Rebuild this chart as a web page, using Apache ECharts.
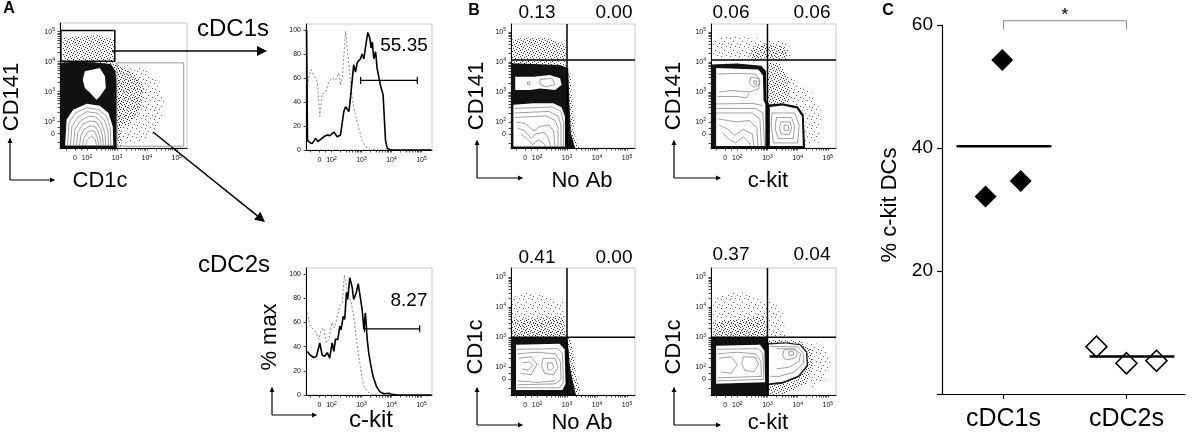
<!DOCTYPE html>
<html>
<head>
<meta charset="utf-8">
<script src="https://cdn.jsdelivr.net/npm/echarts@6/dist/echarts.min.js"></script>
<style>
html, body { margin: 0; padding: 0; background: #fff; }
#main { width: 1192px; height: 435px; }
</style>
</head>
<body>
<div id="main"></div>
<script>
// ---- axis ticks (biexponential channel units: 0 -> 1.6, 10^k -> k)
var tickVals = [1.6, 2, 3, 4, 5];
var tickText = ['0', '10{s|2}', '10{s|3}', '10{s|4}', '10{s|5}'];
var logSteps = [0.301, 0.477, 0.602, 0.699, 0.778, 0.845, 0.903, 0.954];
var histTicks = [0, 20, 40, 60, 80, 100];

// ---- panel A histograms (% max vs c-kit channel)
var cdc1Kit = [[1.17,100],[1.2,8],[1.28,6],[1.36,5.5],[1.47,9.7],[1.55,7],[1.61,5.5],[1.74,11],[1.86,12.5],[1.95,12],[2.08,15],[2.19,11],[2.3,12.5],[2.41,32],[2.47,36],[2.52,37.5],[2.58,32],[2.63,43],[2.74,71],[2.8,65],[2.86,73],[2.92,72],[2.97,76],[3.02,80],[3.08,76],[3.13,85],[3.21,98],[3.28,93],[3.32,85],[3.36,90],[3.41,76],[3.47,82],[3.52,68],[3.58,68],[3.63,54],[3.72,46],[3.8,8],[3.86,1.4],[3.97,0],[5.33,0]];
var cdc1Iso = [[1.17,47],[1.24,60],[1.31,67],[1.42,62],[1.53,57],[1.61,28],[1.69,47],[1.8,48],[1.91,57],[2.02,60],[2.13,58],[2.24,64],[2.3,54],[2.36,60],[2.47,99],[2.58,71],[2.69,43],[2.8,29],[2.91,18],[3.02,8],[3.13,3],[3.3,0.5],[3.6,0],[4.2,0]];
var cdc1Gate = [[2.97,58],[4.86,58]];
var cdc2Kit = [[1.19,36],[1.29,33],[1.41,31],[1.5,32],[1.54,30.5],[1.61,43],[1.69,33],[1.77,32],[1.86,35],[1.94,30.5],[2.02,43],[2.08,36],[2.13,46],[2.21,46],[2.28,57],[2.32,54],[2.39,65],[2.44,62.5],[2.5,85],[2.54,79],[2.61,97],[2.69,89],[2.74,79],[2.83,85],[2.89,92],[2.97,79],[3.02,71],[3.08,54],[3.13,68],[3.19,46],[3.24,35],[3.3,26],[3.39,15],[3.5,7],[3.61,2.8],[3.74,1],[3.91,1.4],[4.02,0.5],[4.19,0],[5.33,0]];
var cdc2Iso = [[1.19,68],[1.29,57],[1.41,54],[1.5,51],[1.58,46],[1.66,54],[1.74,55.5],[1.83,43],[1.91,46],[2.02,60],[2.1,55.5],[2.19,65],[2.28,74],[2.36,76],[2.43,99],[2.5,90],[2.58,82],[2.66,76],[2.74,65],[2.83,46],[2.91,32],[2.99,18],[3.08,7],[3.19,2.8],[3.36,0.5],[3.6,0],[4.2,0]];
var cdc2Gate = [[3.1,54.7],[4.94,54.7]];
var gateText = ['55.35', '8.27'];

// ---- panel A dot plot (CD141 vs CD1c) outlines
var aTopSparse = [[1.2,4.05],[2.9,4.05],[2.9,4.75],[2.4,4.9],[1.8,4.85],[1.2,4.8]];
var aSideSparse = [[3.02,3.9],[3.8,3.85],[4.4,3.4],[4.6,2.6],[4.4,1.8],[3.9,1.3],[3.02,1.3]];
var aSideInner = [[3.02,3.85],[3.5,3.7],[3.9,3.2],[3.8,2.4],[3.4,1.9],[3.02,1.8]];
var aHalo = [[1.12,4.08],[2.0,4.12],[2.9,4.05],[3.1,3.8],[3.15,1.12],[1.12,1.12]];
var aDense = [[1.12,3.96],[1.6,4.0],[2.2,3.98],[2.8,3.92],[2.95,3.7],[3.0,3.2],[3.0,1.12],[1.12,1.12]];
var aBlob = [[1.93,3.68],[2.43,3.79],[2.6,3.51],[2.63,3.12],[2.43,2.84],[2.32,2.73],[2.1,2.96],[1.93,3.12],[1.86,3.4]];
var aDome = [[1.27,1.2],[1.32,2.07],[1.54,2.4],[1.99,2.6],[2.43,2.53],[2.72,2.29],[2.86,1.84],[2.88,1.2]];
var aDomeLines = [
  [[1.35,1.2],[1.4,1.95],[1.6,2.28],[2.0,2.47],[2.4,2.4],[2.65,2.18],[2.78,1.8],[2.8,1.2]],
  [[1.45,1.2],[1.5,1.85],[1.7,2.15],[2.0,2.33],[2.35,2.28],[2.58,2.05],[2.7,1.7],[2.72,1.2]],
  [[1.55,1.2],[1.6,1.75],[1.78,2.02],[2.05,2.18],[2.32,2.15],[2.5,1.92],[2.6,1.6],[2.63,1.2]],
  [[1.65,1.2],[1.7,1.65],[1.85,1.9],[2.08,2.02],[2.3,2.0],[2.45,1.78],[2.52,1.5],[2.55,1.2]],
  [[1.75,1.2],[1.8,1.55],[1.92,1.75],[2.1,1.86],[2.27,1.84],[2.38,1.65],[2.45,1.4],[2.47,1.2]],
  [[1.85,1.2],[1.9,1.45],[2.0,1.62],[2.13,1.7],[2.25,1.68],[2.33,1.5],[2.38,1.3],[2.4,1.2]],
  [[1.95,1.2],[2.0,1.38],[2.15,1.52],[2.28,1.4],[2.32,1.2]]
];
var aTopGate = [[1.13,4.01],[2.93,4.01],[2.93,5.04],[1.13,5.04],[1.13,4.01]];
var aSideGate = [[3.0,1.18],[5.23,1.18],[5.23,3.96],[3.0,3.96],[3.0,1.18]];

// ---- panel B outlines
var b1Top = [[1.16,4.0],[2.95,4.0],[2.95,4.6],[2.4,4.8],[1.7,4.82],[1.16,4.75]];
var b1Halo = [[1.13,4.02],[2.0,4.02],[2.95,3.97],[3.12,3.6],[3.2,2.5],[3.25,1.6],[3.4,1.13],[1.13,1.13]];
var b1Dense = [[1.13,3.96],[2.1,3.93],[2.77,3.9],[3.04,3.79],[3.08,2.62],[3.13,1.62],[3.27,1.13],[1.13,1.13]];
var b1Blob = [[1.27,3.51],[1.88,3.51],[2.43,3.57],[2.77,3.46],[2.82,3.23],[2.6,3.07],[2.1,3.12],[1.77,3.07],[1.27,3.07]];
var b1Low = [[1.21,2.57],[1.88,2.62],[2.54,2.62],[2.82,2.49],[2.93,2.18],[2.93,1.18],[1.21,1.18]];
var b1Lines = [
  [[2.1,3.42],[2.5,3.45],[2.6,3.25],[2.3,3.17],[2.1,3.25],[2.1,3.42]],
  [[1.68,3.33],[1.76,3.33],[1.76,3.25],[1.68,3.25],[1.68,3.33]],
  [[1.25,2.45],[2.5,2.5],[2.8,2.35],[2.88,2.0],[2.88,1.18]],
  [[1.25,2.3],[2.4,2.35],[2.7,2.2],[2.8,1.9],[2.8,1.18]],
  [[1.25,2.15],[2.3,2.2],[2.6,2.05],[2.7,1.8],[2.7,1.18]],
  [[1.3,2.0],[1.6,1.95],[1.9,1.7],[2.1,1.85],[2.4,1.9],[2.55,1.7],[2.6,1.18]],
  [[1.35,1.8],[1.6,1.7],[1.8,1.45],[1.95,1.6],[2.25,1.65],[2.4,1.4],[2.45,1.18]],
  [[1.45,1.6],[1.65,1.45],[1.85,1.25],[2.05,1.4],[2.2,1.3],[2.3,1.18]]
];
var b2Top = [[1.2,4.05],[3.75,4.05],[3.8,4.5],[3.3,4.75],[2.5,4.8],[1.8,4.85],[1.2,4.8]];
var b2TopDense = [[2.4,4.05],[3.7,4.05],[3.6,4.5],[3.0,4.6],[2.5,4.5]];
var b2Speck = [[3.0,4.0],[3.4,3.95],[3.7,3.5],[3.75,2.7],[3.5,2.6],[3.0,2.6]];
var b2Far = [[3.7,3.5],[4.4,3.1],[4.8,2.3],[4.7,1.3],[4.25,1.3],[4.25,2.3],[3.75,2.7]];
var b2Dense = [[1.13,3.92],[2.0,3.95],[2.8,3.88],[2.95,3.7],[2.97,2.7],[3.05,2.58],[3.05,1.13],[1.13,1.13]];
var b2LeftWhite = [[1.3,3.8],[2.7,3.75],[2.85,3.55],[2.87,2.72],[2.93,2.6],[2.93,1.2],[1.3,1.2]];
var b2RightDense = [[3.02,2.58],[3.5,2.62],[4.0,2.52],[4.2,2.25],[4.25,1.13],[3.02,1.13]];
var b2RightWhite = [[3.08,2.5],[3.5,2.55],[3.97,2.45],[4.14,2.18],[4.17,1.2],[3.08,1.2]];
var b2Lines = [
  [[1.35,3.6],[2.0,3.62],[2.6,3.6],[2.75,3.4],[2.7,3.1],[2.4,3.0],[1.8,3.05],[1.4,3.0]],
  [[2.45,3.5],[2.7,3.45],[2.75,3.25],[2.55,3.15],[2.4,3.3],[2.45,3.5]],
  [[2.55,3.38],[2.65,3.35],[2.62,3.25],[2.55,3.28],[2.55,3.38]],
  [[1.35,2.85],[2.0,2.85],[2.3,2.8],[2.4,2.95]],
  [[1.3,2.6],[2.5,2.62],[2.85,2.55]],
  [[1.3,2.45],[2.6,2.45],[2.85,2.3],[2.9,1.2]],
  [[1.3,2.3],[2.5,2.3],[2.75,2.1],[2.8,1.2]],
  [[1.35,2.1],[2.0,2.0],[2.4,2.05],[2.65,1.8],[2.68,1.2]],
  [[1.4,1.9],[1.7,1.75],[1.9,1.55],[2.2,1.75],[2.5,1.6],[2.55,1.2]],
  [[1.5,1.65],[1.75,1.4],[1.95,1.3],[2.2,1.5],[2.4,1.3],[2.42,1.2]],
  [[3.15,2.3],[3.9,2.3],[4.05,1.9],[4.0,1.3],[3.2,1.3],[3.12,1.9],[3.15,2.3]],
  [[3.3,2.15],[3.8,2.15],[3.9,1.85],[3.85,1.45],[3.35,1.45],[3.25,1.8],[3.3,2.15]],
  [[3.45,2.0],[3.75,2.0],[3.8,1.8],[3.72,1.58],[3.45,1.6],[3.4,1.8],[3.45,2.0]],
  [[3.55,1.9],[3.7,1.88],[3.7,1.72],[3.55,1.72],[3.55,1.9]]
];
var b3Top = [[1.16,4.3],[1.6,4.5],[2.3,4.4],[2.9,4.15],[2.95,2.97],[1.16,2.97]];
var b3TopDense = [[1.16,3.6],[2.9,3.7],[2.95,2.97],[1.16,2.97]];
var b3Halo = [[1.12,3.05],[3.1,3.05],[3.2,2.5],[3.3,1.8],[3.45,1.08],[1.12,1.08]];
var b3Dense = [[1.12,2.97],[3.0,2.97],[3.05,2.6],[3.1,2.0],[3.2,1.5],[3.3,1.08],[1.12,1.08]];
var b3White = [[1.3,2.75],[2.75,2.78],[2.92,2.6],[2.95,1.45],[2.85,1.25],[1.3,1.25]];
var b3Lines = [
  [[1.32,2.6],[2.7,2.62],[2.85,2.45],[2.88,1.5],[2.75,1.32],[1.32,1.32]],
  [[1.35,2.45],[2.0,2.5],[2.6,2.45],[2.78,2.2],[2.8,1.6],[2.6,1.45],[1.35,1.42]],
  [[2.2,2.3],[2.6,2.3],[2.7,2.0],[2.55,1.75],[2.25,1.8],[2.15,2.05],[2.2,2.3]],
  [[2.35,2.15],[2.5,2.15],[2.55,2.0],[2.45,1.9],[2.35,1.95],[2.35,2.15]],
  [[1.4,2.3],[1.8,2.35],[2.0,2.1],[1.8,1.75],[1.45,1.8]],
  [[1.5,2.15],[1.75,2.18],[1.85,2.05],[1.7,1.9],[1.5,1.95]],
  [[1.35,1.55],[2.0,1.5],[2.6,1.55]]
];
var b4Top = [[1.2,4.3],[1.8,4.5],[2.5,4.4],[3.0,4.2],[3.0,2.97],[1.2,2.97]];
var b4TopDense = [[1.2,3.5],[2.9,3.7],[3.0,2.97],[1.2,2.97]];
var b4TopRight = [[3.0,4.3],[3.5,3.9],[3.6,2.97],[3.0,2.97]];
var b4Far = [[4.3,2.9],[4.9,2.7],[5.1,2.2],[4.9,1.5],[4.4,1.3],[4.4,2.4]];
var b4Halo = [[3.0,2.9],[3.6,2.92],[4.1,2.87],[4.45,2.6],[4.5,2.0],[4.3,1.45],[3.6,1.12],[3.0,1.08]];
var b4Dense = [[1.12,2.97],[3.0,2.97],[3.05,2.7],[3.05,1.08],[1.12,1.08]];
var b4LeftWhite = [[1.3,2.72],[2.75,2.75],[2.9,2.55],[2.92,1.5],[1.3,1.45]];
var b4RightDense = [[3.02,2.8],[3.6,2.83],[4.1,2.77],[4.32,2.52],[4.35,2.05],[4.05,1.68],[3.5,1.45],[3.02,1.4]];
var b4RightWhite = [[3.05,2.76],[3.6,2.79],[4.07,2.73],[4.27,2.5],[4.3,2.08],[4.02,1.73],[3.5,1.52],[3.05,1.47]];
var b4Lines = [
  [[1.32,2.6],[2.7,2.62],[2.85,2.45],[2.88,1.6],[1.32,1.55]],
  [[1.35,2.45],[2.0,2.5],[2.6,2.45],[2.78,2.2],[2.8,1.7],[1.35,1.65]],
  [[2.2,2.35],[2.6,2.33],[2.7,2.1],[2.55,1.85],[2.25,1.9],[2.15,2.1],[2.2,2.35]],
  [[1.4,2.3],[1.8,2.35],[2.0,2.1],[1.8,1.8],[1.45,1.85]],
  [[3.1,2.7],[4.0,2.68],[4.2,2.45],[4.2,2.15],[3.9,1.85],[3.4,1.7],[3.1,1.7]],
  [[3.3,2.62],[3.9,2.62],[4.1,2.45],[4.05,2.2],[3.7,2.0],[3.3,1.95]],
  [[3.55,2.58],[3.9,2.58],[4.0,2.45],[3.9,2.3],[3.6,2.25],[3.5,2.4],[3.55,2.58]],
  [[3.7,2.52],[3.85,2.52],[3.88,2.42],[3.72,2.38],[3.7,2.52]]
];
var quadTop = ['0.13', '0.00', '0.06', '0.06'];
var quadBottom = ['0.41', '0.00', '0.37', '0.04'];

// ---- panel C
var cats = ['cDC1s', 'cDC2s'];
var cdc1Pct = [[0.354,32.1],[0.49,54.3],[0.64,34.65]];
var cdc2Pct = [[1.256,7.7],[1.5,5.0],[1.744,5.4]];
var means = [40.3, 6.1];
var meanSpan = [[0.118,0.89],[1.2,1.89]];

// ---------------------------------------------------------------
var FONT = '"Liberation Sans", Arial, Helvetica, sans-serif';
var chart = echarts.init(document.getElementById('main'));

// stipple fills for the sparse event clouds
function dots(size, pts, alpha) {
    var c = document.createElement('canvas');
    c.width = size; c.height = size;
    var ctx = c.getContext('2d');
    ctx.fillStyle = 'rgba(0,0,0,' + alpha + ')';
    pts.forEach(function (p) { ctx.fillRect(p[0], p[1], 1, 1); });
    return {image: c, repeat: 'repeat'};
}
var sparse = dots(9, [[1, 2], [6, 1], [4, 5], [8, 7], [2, 8]], 0.6);
var medium = dots(6, [[0, 1], [3, 0], [2, 3], [5, 4], [1, 5], [4, 2]], 0.75);

var minorTicks = [1.3, 1.6, 1.8];
[2, 3, 4].forEach(function (k) {
    minorTicks.push(k);
    logSteps.forEach(function (s) { minorTicks.push(k + s); });
});
minorTicks.push(5);

var labelStyle = {fontSize: 7, lineHeight: 9, color: '#111', fontFamily: FONT,
    rich: {s: {fontSize: 5, lineHeight: 4, verticalAlign: 'top', color: '#111', fontFamily: FONT}}};
function tickLabel(v) {
    var i = tickVals.indexOf(v);
    return i < 0 ? '' : tickText[i];
}
function flowX(gi, min, max) {
    return {type: 'value', gridIndex: gi, min: min, max: max,
        axisLine: {show: true, onZero: false, lineStyle: {color: '#000', width: 1}},
        axisTick: {show: true, customValues: minorTicks, length: 2.5, lineStyle: {color: '#000', width: 0.7}},
        axisLabel: Object.assign({customValues: tickVals, formatter: tickLabel, margin: 6}, labelStyle),
        splitLine: {show: false}};
}
function flowY(gi, min, max) {
    return {type: 'value', gridIndex: gi, min: min, max: max,
        axisLine: {show: true, onZero: false, lineStyle: {color: '#000', width: 1}},
        axisTick: {show: true, customValues: minorTicks, length: 2.5, lineStyle: {color: '#000', width: 0.7}},
        axisLabel: Object.assign({customValues: tickVals, formatter: tickLabel, margin: 5}, labelStyle),
        splitLine: {show: false}};
}
function histY(gi) {
    return {type: 'value', gridIndex: gi, min: 0, max: 105,
        axisLine: {show: true, lineStyle: {color: '#000', width: 1}},
        axisTick: {show: true, customValues: histTicks, length: 2.5, lineStyle: {color: '#000', width: 0.7}},
        axisLabel: Object.assign({customValues: histTicks, margin: 5}, labelStyle),
        splitLine: {show: false}};
}

function area(gi, pts, fill) {
    return {type: 'custom', xAxisIndex: gi, yAxisIndex: gi, clip: true, silent: true,
        data: [pts[0]],
        renderItem: function (params, api) {
            var p = pts.map(function (d) { return api.coord(d); });
            return {type: 'polygon', shape: {points: p}, style: {fill: fill}};
        }};
}
function trace(gi, pts, color, width, dash) {
    return {type: 'line', xAxisIndex: gi, yAxisIndex: gi, data: pts, symbol: 'none',
        silent: true, clip: true,
        lineStyle: {color: color, width: width, type: dash || 'solid'}};
}
function lines(gi, list) {
    return list.map(function (l) { return trace(gi, l, '#777', 0.7); });
}
function gate(gi, pts) {
    return {type: 'line', xAxisIndex: gi, yAxisIndex: gi, data: pts, symbol: 'rect',
        symbolSize: [1.2, 7], showSymbol: true, silent: true,
        itemStyle: {color: '#000', opacity: 1}, lineStyle: {color: '#000', width: 1.2}};
}
function quad(gi, xr, yr, yq) {
    return [trace(gi, [[3.0, yr[0]], [3.0, yr[1]]], '#000', 1.5),
            trace(gi, [[xr[0], yq], [xr[1], yq]], '#000', 1.5)];
}

var aX = [1.1, 5.34], aY = [1.12, 5.29];
var hX = [1.15, 5.35];
var bX = [1.13, 5.27], bY = [1.13, 5.27], bY2 = [1.08, 5.3];

var frame = {show: true, borderColor: '#c8c8c8', borderWidth: 1};
var grids = [
    Object.assign({left: 60, top: 23, width: 127, height: 125}, frame),
    Object.assign({left: 306, top: 24, width: 126, height: 126}, frame),
    Object.assign({left: 306, top: 268, width: 126, height: 127}, frame),
    Object.assign({left: 511, top: 24, width: 124, height: 124}, frame),
    Object.assign({left: 711, top: 24, width: 125, height: 124}, frame),
    Object.assign({left: 511, top: 268, width: 124, height: 127}, frame),
    Object.assign({left: 711, top: 268, width: 125, height: 127}, frame),
    {left: 942, top: 25, width: 243, height: 369}
];

var xAxes = [flowX(0, aX[0], aX[1]), flowX(1, hX[0], hX[1]), flowX(2, hX[0], hX[1]),
    flowX(3, bX[0], bX[1]), flowX(4, bX[0], bX[1]), flowX(5, bX[0], bX[1]), flowX(6, bX[0], bX[1]),
    {type: 'value', gridIndex: 7, min: 0, max: 1.976,
        axisLine: {show: true, lineStyle: {color: '#000', width: 1.2}},
        axisTick: {show: true, customValues: [0.5, 1.5], length: 5, lineStyle: {color: '#000', width: 1.2}},
        axisLabel: {customValues: [0.5, 1.5], formatter: function (v) { return cats[v < 1 ? 0 : 1]; },
            fontSize: 25, color: '#000', fontFamily: FONT, margin: 13},
        splitLine: {show: false}}];
var yAxes = [flowY(0, aY[0], aY[1]), histY(1), histY(2),
    flowY(3, bY[0], bY[1]), flowY(4, bY[0], bY[1]), flowY(5, bY2[0], bY2[1]), flowY(6, bY2[0], bY2[1]),
    {type: 'value', gridIndex: 7, min: 0, max: 60,
        axisLine: {show: true, lineStyle: {color: '#000', width: 1.2}},
        axisTick: {show: true, customValues: [0, 20, 40, 60], length: 5, lineStyle: {color: '#000', width: 1.2}},
        axisLabel: {customValues: [20, 40, 60], fontSize: 19, color: '#000', fontFamily: FONT, margin: 9},
        splitLine: {show: false}}];

var series = [];
function add(list) { series = series.concat(list); }

// A dot plot
add([area(0, aTopSparse, medium), area(0, aSideSparse, sparse), area(0, aSideInner, medium),
     area(0, aHalo, medium), area(0, aDense, '#111'), area(0, aBlob, '#fff'), area(0, aDome, '#fff')]);
add(lines(0, aDomeLines));
add([trace(0, aTopGate, '#000', 1.5), trace(0, aSideGate, '#999', 1)]);
// A histograms
add([trace(1, cdc1Iso, '#888', 1, [2, 2]), trace(1, cdc1Kit, '#000', 1.6), gate(1, cdc1Gate),
     trace(2, cdc2Iso, '#888', 1, [2, 2]), trace(2, cdc2Kit, '#000', 1.6), gate(2, cdc2Gate)]);
// B1
add([area(3, b1Top, medium), area(3, b1Halo, medium), area(3, b1Dense, '#111'),
     area(3, b1Blob, '#fff'), area(3, b1Low, '#fff')]);
add(lines(3, b1Lines));
add(quad(3, bX, bY, 4.07));
// B2
add([area(4, b2Top, sparse), area(4, b2TopDense, medium), area(4, b2Speck, medium), area(4, b2Far, sparse),
     area(4, b2Dense, '#111'), area(4, b2LeftWhite, '#fff'), area(4, b2RightDense, '#111'), area(4, b2RightWhite, '#fff')]);
add(lines(4, b2Lines));
add(quad(4, bX, bY, 4.07));
// B3
add([area(5, b3Top, sparse), area(5, b3TopDense, medium), area(5, b3Halo, medium),
     area(5, b3Dense, '#111'), area(5, b3White, '#fff')]);
add(lines(5, b3Lines));
add(quad(5, bX, bY2, 3.0));
// B4
add([area(6, b4Top, sparse), area(6, b4TopDense, medium), area(6, b4TopRight, sparse), area(6, b4Far, sparse),
     area(6, b4Halo, medium), area(6, b4Dense, '#111'), area(6, b4LeftWhite, '#fff'),
     area(6, b4RightDense, '#222'), area(6, b4RightWhite, '#fff')]);
add(lines(6, b4Lines));
add(quad(6, bX, bY2, 3.0));
// C
add([
    {type: 'line', xAxisIndex: 7, yAxisIndex: 7, symbol: 'none', silent: true,
        data: [[meanSpan[0][0], means[0]], [meanSpan[0][1], means[0]]], lineStyle: {color: '#000', width: 2.5}},
    {type: 'line', xAxisIndex: 7, yAxisIndex: 7, symbol: 'none', silent: true,
        data: [[meanSpan[1][0], means[1]], [meanSpan[1][1], means[1]]], lineStyle: {color: '#000', width: 2.5}},
    {type: 'scatter', xAxisIndex: 7, yAxisIndex: 7, data: cdc1Pct, symbol: 'diamond', symbolSize: 22,
        itemStyle: {color: '#000', opacity: 1}},
    {type: 'scatter', xAxisIndex: 7, yAxisIndex: 7, data: cdc2Pct, symbol: 'diamond', symbolSize: 21,
        itemStyle: {color: 'rgba(255,255,255,0)', borderColor: '#000', borderWidth: 1.6, opacity: 1}},
    {type: 'line', xAxisIndex: 7, yAxisIndex: 7, symbol: 'none', silent: true, clip: false,
        data: [[0.5, 59.3], [0.5, 60.7], [1.5, 60.7], [1.5, 59.3]], lineStyle: {color: '#888', width: 1}},
    {type: 'scatter', xAxisIndex: 7, yAxisIndex: 7, clip: false, symbolSize: 0, silent: true,
        data: [[1.0, 61.5]],
        label: {show: true, formatter: '*', position: 'inside', fontSize: 16, fontWeight: 'bold', color: '#000', fontFamily: FONT}}
]);

// ---- decorations: texts and arrows
var g = [];
function txt(s, x, y, size, rot, bold) {
    g.push({type: 'text', x: x, y: y, rotation: rot ? Math.PI / 2 : 0,
        style: {text: s, font: (bold ? 'bold ' : '') + size + 'px ' + FONT, fill: '#000',
            textAlign: 'center', textVerticalAlign: 'middle'}});
}
function head(x2, y2, x1, y1, L, w) {
    var dx = x2 - x1, dy = y2 - y1, d = Math.sqrt(dx * dx + dy * dy);
    dx /= d; dy /= d;
    var bx = x2 - L * dx, by = y2 - L * dy;
    g.push({type: 'polygon', shape: {points: [[bx - w * dy, by + w * dx], [x2, y2], [bx + w * dy, by - w * dx]]},
        style: {fill: '#000'}});
}
function arrow(x1, y1, x2, y2, L, w, lw) {
    g.push({type: 'line', shape: {x1: x1, y1: y1, x2: x2 - (x2 - x1) * 0.02, y2: y2 - (y2 - y1) * 0.02},
        style: {stroke: '#000', lineWidth: lw}});
    head(x2, y2, x1, y1, L, w);
}
[[10, 180, 138, 55], [272, 415, 387, 317], [477, 178, 140, 523], [674, 178, 140, 721],
 [477, 425, 387, 523], [674, 425, 387, 721]].forEach(function (a) {
    arrow(a[0], a[1], a[0], a[2], 5, 2.5, 1.2);
    arrow(a[0], a[1], a[3], a[1], 5, 2.5, 1.2);
});
arrow(112, 51, 267, 51, 10, 5, 1.5);
arrow(153, 132, 265, 222, 10, 5, 1.5);

txt('A', 9, 9, 16, false, true);
txt('B', 474, 11, 16, false, true);
txt('C', 888, 11, 16, false, true);
txt('CD141', 12, 97, 22, true);
txt('CD1c', 100, 181, 22);
txt('cDC1s', 233, 29, 24);
txt('cDC2s', 234, 265, 24);
txt('% max', 270, 337, 22, true);
txt('c-kit', 371, 420, 24);
txt(gateText[0], 404, 46, 19);
txt(gateText[1], 409, 301, 19);
txt('CD141', 477, 96, 22, true);
txt('CD141', 674, 96, 22, true);
txt('CD1c', 476, 347, 22, true);
txt('CD1c', 674, 347, 22, true);
txt('No Ab', 582, 181, 22);
txt('c-kit', 768, 181, 22);
txt('No Ab', 582, 423, 22);
txt('c-kit', 768, 423, 22);
[537, 614, 731, 812].forEach(function (x, i) {
    txt(quadTop[i], x, 13, 19);
    txt(quadBottom[i], x, i < 2 ? 258 : 255, 19);
});
txt('% c-kit DCs', 890, 205, 22, true);

chart.setOption({
    animation: false,
    grid: grids,
    xAxis: xAxes,
    yAxis: yAxes,
    series: series,
    graphic: {elements: g}
});
</script>
</body>
</html>
